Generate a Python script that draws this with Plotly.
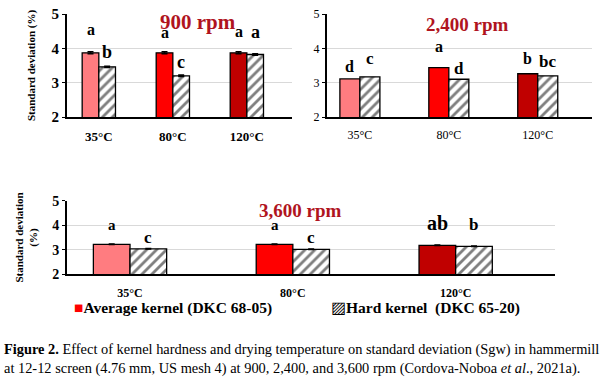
import plotly.graph_objects as go

categories = ["35°C", "80°C", "120°C"]
bar_colors = ["#FF7C80", "#FF0000", "#C00000"]

# panel values (standard deviation, %)
avg_900 = [3.87, 3.87, 3.87]
hard_900 = [3.46, 3.20, 3.82]
avg_2400 = [3.11, 3.44, 3.26]
hard_2400 = [3.17, 3.10, 3.20]
avg_3600 = [3.22, 3.22, 3.18]
hard_3600 = [3.04, 3.02, 3.14]

err_900_avg = [0.03, 0.03, 0.03]
err_900_hard = [0.02, 0.02, 0.02]
err_3600 = [0.01, 0.01, 0.01]

letters_avg_900 = ["a", "a", "a"]
letters_hard_900 = ["b", "c", "a"]
letters_avg_2400 = ["d", "a", "b"]
letters_hard_2400 = ["c", "d", "bc"]
letters_avg_3600 = ["a", "a", "ab"]
letters_hard_3600 = ["c", "c", "b"]

W, H = 600, 384
def px_x(a, b):
    return [a / W, b / W]
def px_y(top, bottom):
    return [1 - bottom / H, 1 - top / H]

SERIF = "Liberation Serif"
TITLE_RED = "#B0141E"

fig = go.Figure()
xs = [0, 1, 2]
bw = 0.225

def add_panel(n, avg, hard, err_a=None, err_h=None):
    xa = "x" if n == 1 else f"x{n}"
    ya = "y" if n == 1 else f"y{n}"
    fig.add_trace(go.Bar(
        x=[x - bw / 2 for x in xs], y=avg, width=bw, xaxis=xa, yaxis=ya,
        marker=dict(color=bar_colors, line=dict(color="black", width=1.3)),
        error_y=dict(type="data", array=err_a, visible=err_a is not None,
                     color="black", thickness=1.5, width=3),
        showlegend=False, hoverinfo="skip"))
    fig.add_trace(go.Bar(
        x=[x + bw / 2 for x in xs], y=hard, width=bw, xaxis=xa, yaxis=ya,
        marker=dict(color="white", line=dict(color="black", width=1.3),
                    pattern=dict(shape="/", fgcolor="black", bgcolor="white",
                                 size=7, solidity=0.4)),
        error_y=dict(type="data", array=err_h, visible=err_h is not None,
                     color="black", thickness=1.5, width=3),
        showlegend=False, hoverinfo="skip"))

add_panel(1, avg_900, hard_900, err_900_avg, err_900_hard)
add_panel(2, avg_2400, hard_2400)
add_panel(3, avg_3600, hard_3600, err_3600, err_3600)

def xaxis(dom, anchor, bold, size, rng):
    return dict(domain=dom, anchor=anchor, range=rng, tickmode="array",
                tickvals=xs, automargin=False,
                ticktext=[f"<b>{c}</b>" if bold else c for c in categories],
                showline=True, linecolor="black", linewidth=2,
                ticks="", showgrid=False, zeroline=False,
                tickfont=dict(family=SERIF, size=size, color="black"),
                ticklabelstandoff=6)

def yaxis(dom, anchor, bold, size):
    return dict(domain=dom, anchor=anchor, range=[2, 5], tickvals=[2, 3, 4, 5],
                automargin=False,
                ticktext=[f"<b>{v}</b>" if bold else str(v) for v in [2, 3, 4, 5]],
                showline=True, linecolor="black", linewidth=2,
                ticks="outside", ticklen=3, tickcolor="black",
                showgrid=True, gridcolor="#D9D9D9", gridwidth=1, zeroline=False,
                tickfont=dict(family=SERIF, size=size, color="black"))

fig.update_layout(
    xaxis=xaxis(px_x(67, 292), "y", True, 13, [-0.43, 2.61]),
    yaxis=dict(yaxis(px_y(14, 117), "x", True, 15),
               title=dict(text="<b>Standard deviation (%)</b>",
                          font=dict(family=SERIF, size=11, color="black"),
                          standoff=14)),
    xaxis2=xaxis(px_x(327, 592), "y2", False, 12, [-0.37, 2.61]),
    yaxis2=yaxis(px_y(14, 117), "x2", False, 12),
    xaxis3=xaxis(px_x(67, 555), "y3", True, 12, [-0.387, 2.61]),
    yaxis3=dict(yaxis(px_y(200.7, 274.3), "x3", True, 14),
                title=dict(text="<b>Standard deviation<br>(%)</b>",
                           font=dict(family=SERIF, size=11, color="black"),
                           standoff=12)),
    barmode="overlay",
    width=W, height=H,
    margin=dict(l=0, r=0, t=0, b=0, pad=0, autoexpand=False),
    paper_bgcolor="white", plot_bgcolor="white",
    showlegend=False,
)

ann = []
def add_letters(n, vals, letters, offsets, side, size=15):
    xa = "x" if n == 1 else f"x{n}"
    ya = "y" if n == 1 else f"y{n}"
    for i, (v, l, o) in enumerate(zip(vals, letters, offsets)):
        sz = size + 5 if l == "ab" else size
        ann.append(dict(x=i + side * bw / 2, y=v + o, xref=xa, yref=ya,
                        text=f"<b>{l}</b>", showarrow=False,
                        font=dict(family=SERIF, size=sz, color="black"),
                        yanchor="middle"))

# letter centres above bars (data units)
add_letters(1, avg_900, letters_avg_900, [0.67, 0.59, 0.62], -1, 16)
add_letters(1, hard_900, letters_hard_900, [0.43, 0.41, 0.67], 1, 18)
add_letters(2, avg_2400, letters_avg_2400, [0.36, 0.61, 0.45], -1, 16)
add_letters(2, hard_2400, letters_hard_2400, [0.54, 0.32, 0.41], 1, 17)
add_letters(3, avg_3600, letters_avg_3600, [0.8, 0.8, 0.9], -1, 15)
add_letters(3, hard_3600, letters_hard_3600, [0.45, 0.47, 0.88], 1, 17)

# panel titles
ann.append(dict(x=198 / W, y=1 - 22 / H, xref="paper", yref="paper",
                xanchor="center", yanchor="middle",
                text="<b>900 rpm</b>", showarrow=False,
                font=dict(family=SERIF, size=21, color=TITLE_RED)))
ann.append(dict(x=467 / W, y=1 - 24 / H, xref="paper", yref="paper",
                xanchor="center", yanchor="middle",
                text="<b>2,400 rpm</b>", showarrow=False,
                font=dict(family=SERIF, size=19, color=TITLE_RED)))
ann.append(dict(x=300 / W, y=1 - 210 / H, xref="paper", yref="paper",
                xanchor="center", yanchor="middle",
                text="<b>3,600 rpm</b>", showarrow=False,
                font=dict(family=SERIF, size=19, color=TITLE_RED)))

# legend
ann.append(dict(x=72 / W, y=1 - 308 / H, xref="paper", yref="paper",
                xanchor="left", yanchor="middle",
                text='<span style="color:#FF0000">■</span><b>Average kernel (DKC 68-05)</b>',
                showarrow=False, font=dict(family=SERIF, size=15.5, color="black")))
ann.append(dict(x=329 / W, y=1 - 308 / H, xref="paper", yref="paper",
                xanchor="left", yanchor="middle",
                text='▨<b>Hard kernel  (DKC 65-20)</b>',
                showarrow=False, font=dict(family=SERIF, size=15.5, color="black")))

# caption
ann.append(dict(x=2 / W, y=1 - 359 / H, xref="paper", yref="paper",
                xanchor="left", yanchor="middle", align="left",
                text="<b>Figure 2.</b> Effect of kernel hardness and drying temperature on standard deviation (Sgw) in hammermill<br>"
                     "at 12-12 screen (4.76 mm, US mesh 4) at 900, 2,400, and 3,600 rpm (Cordova-Noboa <i>et al</i>., 2021a).",
                showarrow=False, font=dict(family=SERIF, size=14.4, color="black")))

fig.update_layout(annotations=ann)
fig.write_html("out.html", config={"displayModeBar": False},
               post_script="document.body.style.margin='0';document.body.style.padding='0';")
